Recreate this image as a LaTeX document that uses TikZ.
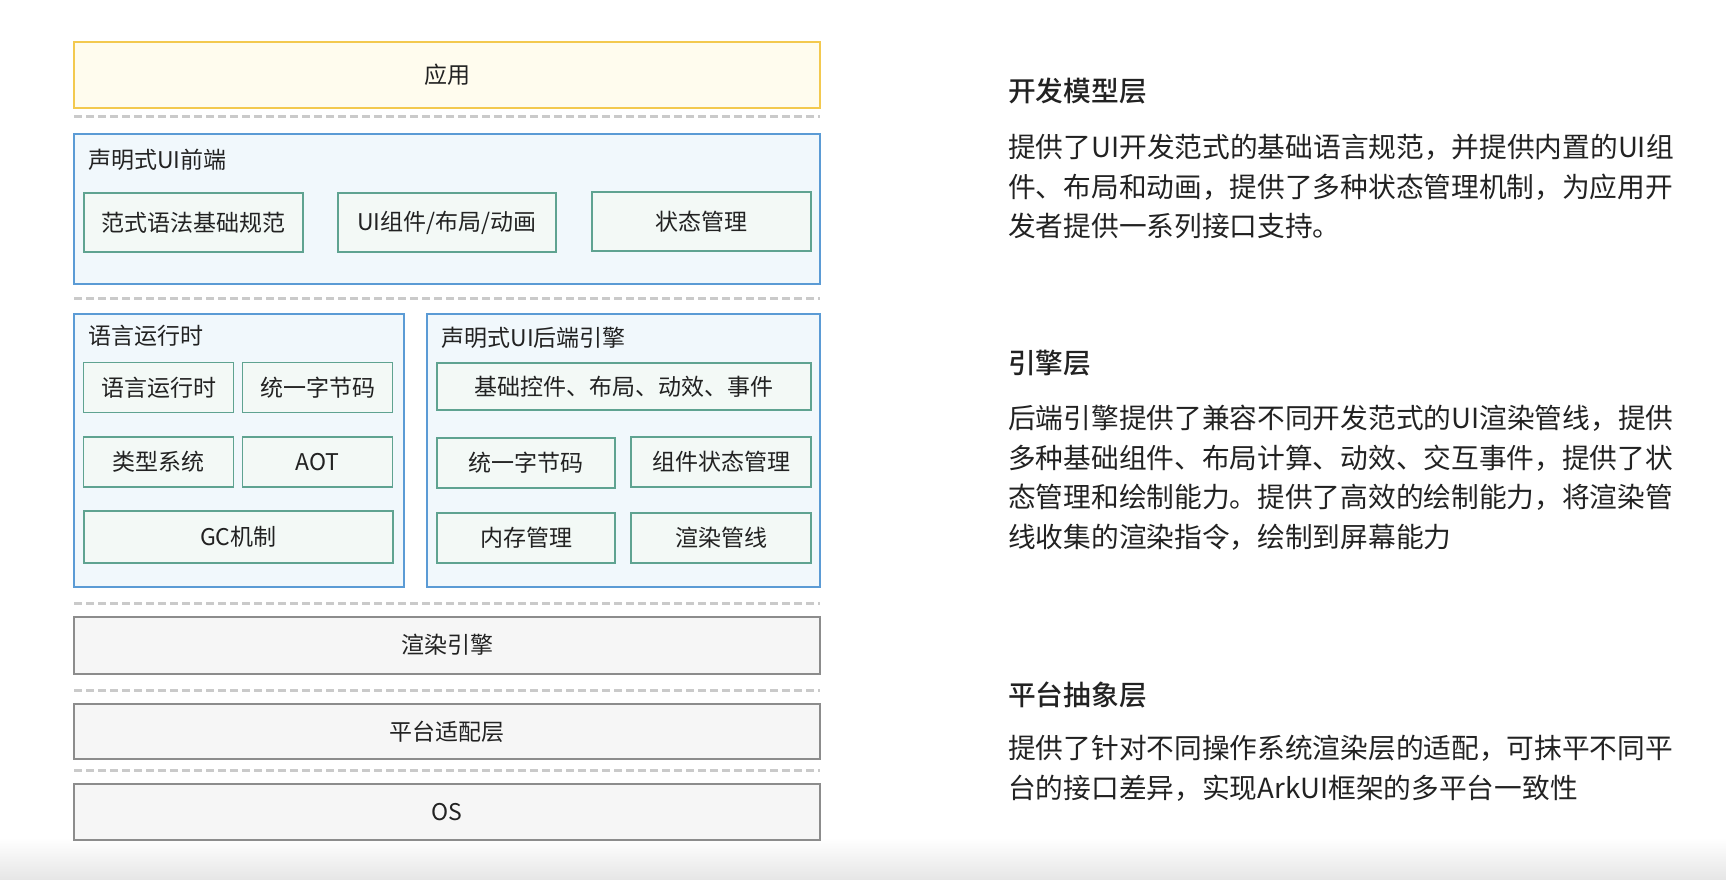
\documentclass[tikz,border=0pt]{standalone}
\usepackage{fontspec}
\setmainfont{Noto Sans CJK SC}
\newfontfamily\headfont{Noto Sans CJK SC Medium}
\usetikzlibrary{positioning}
\definecolor{appfill}{HTML}{FFFCEE}
\definecolor{appdraw}{HTML}{F3C94F}
\definecolor{grpfill}{HTML}{F1F8FC}
\definecolor{grpdraw}{HTML}{5B9BD5}
\definecolor{boxfill}{HTML}{F3F9F6}
\definecolor{boxdraw}{HTML}{5FA391}
\definecolor{layfill}{HTML}{F6F6F6}
\definecolor{laydraw}{HTML}{8C8C8C}
\definecolor{sepcol}{HTML}{CACACA}
\definecolor{txtcol}{HTML}{222222}

\begin{document}
\begin{tikzpicture}[x=1pt, y=-1pt,
			layer/.style={draw=laydraw, fill=layfill, line width=2pt, rectangle, minimum width=746pt, minimum height=55pt, inner sep=0pt, text=txtcol, font={\fontsize{23pt}{28pt}\selectfont}},
			group/.style={draw=grpdraw, fill=grpfill, line width=1.6pt, rectangle, inner sep=0pt},
			grouptitle/.style={anchor=west, inner sep=0pt, text=txtcol, font={\fontsize{23pt}{28pt}\selectfont}},
			internal/.style={draw=boxdraw, fill=boxfill, line width=1.6pt, rectangle, minimum width=150pt, minimum height=50pt, inner sep=0pt, text=txtcol, font={\fontsize{23pt}{28pt}\selectfont}},
			separator/.style={draw=sepcol, line width=2.6pt, dash pattern=on 8pt off 4pt},
			heading/.style={anchor=west, inner sep=0pt, text=txtcol, font={\fontsize{27.7pt}{34pt}\headfont}},
			para/.style={anchor=west, inner sep=0pt, align=left, text=txtcol, font={\fontsize{27.7pt}{39.6pt}\selectfont}}]
			\useasboundingbox (0,0) rectangle (1726,880);
			\fill[top color=white, bottom color=black!10] (0,838) rectangle (1726,880);
			
			% left: layered architecture
			\node[layer, draw=appdraw, fill=appfill, minimum height=66pt](node1) at (447, 74.8) {应用};
			\draw[separator] (74, 116.7) -- (820, 116.7);
			
			\node[group, minimum width=746pt, minimum height=150pt](node2) at (447, 209.2) {};
			\node[grouptitle](node3) at (88, 159.6) {声明式UI前端};
			\node[internal, minimum width=219pt, minimum height=59pt](node4) at (193.2, 222.4) {范式语法基础规范};
			\node[internal, minimum width=218pt, minimum height=59pt](node5) at (447, 222.4) {UI组件/布局/动画};
			\node[internal, minimum width=219pt, minimum height=59pt](node6) at (701.7, 221.4) {状态管理};
			\draw[separator] (74, 298.3) -- (820, 298.3);
			
			\node[group, minimum width=330pt, minimum height=273pt](node7) at (238.9, 450.2) {};
			\node[grouptitle](node8) at (88, 335.7) {语言运行时};
			\node[internal](node9) at (158.6, 387.5) {语言运行时};
			\node[internal](node10) at (317.6, 387.5) {统一字节码};
			\node[internal](node11) at (158.6, 461.8) {类型系统};
			\node[internal](node12) at (317.6, 461.8) {AOT};
			\node[internal, minimum width=309pt, minimum height=52pt](node13) at (238.4, 536.7) {GC机制};
			
			\node[group, minimum width=393pt, minimum height=273pt](node14) at (623.6, 450.2) {};
			\node[grouptitle](node15) at (441.4, 338) {声明式UI后端引擎};
			\node[internal, minimum width=374pt, minimum height=47pt](node16) at (624.2, 386.4) {基础控件、布局、动效、事件};
			\node[internal, minimum width=178pt](node17) at (526.2, 462.8) {统一字节码};
			\node[internal, minimum width=180pt](node18) at (721, 461.8) {组件状态管理};
			\node[internal, minimum width=178pt](node19) at (526.2, 537.7) {内存管理};
			\node[internal, minimum width=180pt](node20) at (721, 538.2) {渲染管线};
			\draw[separator] (74, 603.2) -- (820, 603.2);
			
			\node[layer, minimum height=57pt](node21) at (447, 645) {渲染引擎};
			\draw[separator] (74, 690.2) -- (820, 690.2);
			\node[layer](node22) at (447, 731.4) {平台适配层};
			\draw[separator] (74, 770.6) -- (820, 770.6);
			\node[layer, minimum height=56pt](node23) at (447, 811.8) {OS};
			
			% right: descriptions
			\node[heading](node24) at (1008, 91.4) {开发模型层};
			\node[para](node25) at (1008, 186.6) {提供了UI开发范式的基础语言规范，并提供内置的UI组\\件、布局和动画，提供了多种状态管理机制，为应用开\\发者提供一系列接口支持。};
			\node[heading](node26) at (1008, 363.3) {引擎层};
			\node[para](node27) at (1008, 477.8) {后端引擎提供了兼容不同开发范式的UI渲染管线，提供\\多种基础组件、布局计算、动效、交互事件，提供了状\\态管理和绘制能力。提供了高效的绘制能力，将渲染管\\线收集的渲染指令，绘制到屏幕能力};
			\node[heading](node28) at (1008, 694.6) {平台抽象层};
			\node[para](node29) at (1008, 768.4) {提供了针对不同操作系统渲染层的适配，可抹平不同平\\台的接口差异，实现ArkUI框架的多平台一致性};
\end{tikzpicture}
\end{document}
